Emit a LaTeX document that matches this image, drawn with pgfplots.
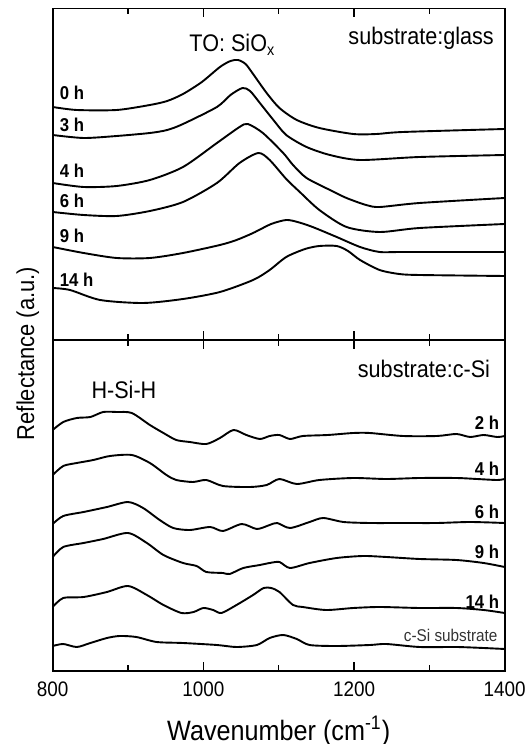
\documentclass[border=0pt]{standalone}
\usepackage{fontspec}
\setmainfont{Liberation Sans}[FakeStretch=0.9]
\usepackage{pgfplots}
\pgfplotsset{compat=1.18}

\pgfplotsset{
  panel/.style={
    width=226pt, scale only axis,
    xmin=800, xmax=1400, ymin=0,
    ytick=\empty,
    xtick={800,1000,1200,1400},
    minor x tick num=1,
    tick align=inside,
    major tick length=4.5pt, minor tick length=3pt,
    axis line style={line width=0.9pt},
    every tick/.style={black, line width=0.8pt},
    tick label style={font=\fontsize{10.5}{12}\selectfont},
    xticklabel style={yshift=-1.8pt},
    /pgf/number format/assume math mode=true,
    /pgf/number format/1000 sep={},
  },
}
\tikzset{
  cv/.style={black, line width=0.95pt, smooth, tension=0.45},
  lab/.style={font=\fontsize{9.3}{10}\selectfont\bfseries, inner sep=0pt},
  big/.style={font=\fontsize{12}{14}\selectfont, inner sep=0pt},
}

\begin{document}
\begin{tikzpicture}
\path[use as bounding box] (-26.35pt,-36.5pt) rectangle (237.65pt,335.5pt);

% top: substrate glass
\begin{axis}[panel, at={(0,165.5pt)}, anchor=south west,
  height=165.75pt, ymax=331.5, xticklabels={}]
% 0 h
\addplot[cv] coordinates {(800,233) (832,230) (885,230) (929,235) (952,239) (973,246) (998,258) (1022,273) (1036,279) (1046,280) (1056,276) (1066,266) (1084,247) (1101,232) (1124,220) (1154,212) (1199,206) (1230,206) (1265,208) (1400,211)};
% 3 h
\addplot[cv] coordinates {(800,205) (841,202) (885,204) (929,207) (952,210) (973,216) (1018,233) (1036,245) (1052,252) (1062,249) (1075,237) (1093,220) (1110,205) (1137,193) (1168,185) (1208,180) (1287,183) (1400,185)};
% 4 h
\addplot[cv] coordinates {(800,157) (841,153) (885,154) (929,160) (973,173) (1018,197) (1048,213) (1059,216) (1079,207) (1106,187) (1119,175) (1137,162) (1168,150) (1190,142) (1216,135) (1234,133) (1287,137) (1400,142)};
% 6 h
\addplot[cv] coordinates {(800,128) (841,125) (885,124) (929,129) (973,138) (1018,157) (1048,177) (1073,187) (1088,180) (1110,161) (1128,148) (1154,130) (1190,113) (1234,108) (1287,112) (1400,116)};
% 9 h
\addplot[cv] coordinates {(800,93) (841,87) (885,82) (929,82) (973,87) (1022,95) (1044,100) (1066,107) (1090,116) (1110,120) (1125,118) (1145,113) (1177,103) (1208,93) (1234,88) (1265,88) (1400,88)};
% 14 h
\addplot[cv] coordinates {(800,52) (823,50) (863,40) (920,37) (973,41) (1022,48) (1066,60) (1088,70) (1110,83) (1135,91) (1154,94) (1177,94) (1192,89) (1208,80) (1234,70) (1260,66) (1287,65) (1400,64)};
\node[lab, anchor=west] at (axis cs:809,247) {0 h};
\node[lab, anchor=west] at (axis cs:809,215) {3 h};
\node[lab, anchor=west] at (axis cs:809,169) {4 h};
\node[lab, anchor=west] at (axis cs:809,139) {6 h};
\node[lab, anchor=west] at (axis cs:809,104) {9 h};
\node[lab, anchor=west] at (axis cs:809,60) {14 h};
\node[big, anchor=base west] at (axis cs:981,288) {TO: SiO\textsubscript{x}};
\node[big, anchor=base east] at (axis cs:1386,295) {substrate:glass};
\end{axis}

% bottom: substrate c-Si
\begin{axis}[panel, at={(0,0)}, anchor=south west,
  height=165.5pt, ymax=331,
  xlabel={Wavenumber (cm\textsuperscript{-1})},
  xlabel style={at={(axis description cs:0.5,0)}, anchor=base, yshift=-34.5pt, font=\fontsize{14}{16}\selectfont, inner sep=0pt}]
% 2 h
\addplot[cv] coordinates {(800,241) (814,249) (832,253) (850,254) (867,259) (885,259) (905,258) (929,246) (947,238) (964,231) (982,229) (1004,227) (1022,233) (1040,241) (1057,236) (1075,232) (1088,235) (1101,236) (1115,232) (1132,235) (1165,236) (1199,238) (1221,238) (1265,235) (1310,235) (1336,237) (1354,234) (1372,236) (1390,234) (1400,235)};
% 4 h
\addplot[cv] coordinates {(800,196) (814,205) (832,208) (854,211) (876,215) (905,216) (929,208) (951,196) (964,191) (986,189) (1004,191) (1026,185) (1062,184) (1084,186) (1101,192) (1124,187) (1154,191) (1199,193) (1243,192) (1287,193) (1336,193) (1363,192) (1390,191) (1400,192)};
% 6 h
\addplot[cv] coordinates {(800,147) (814,155) (841,159) (872,164) (900,169) (920,163) (942,151) (960,143) (982,141) (1009,144) (1026,140) (1051,147) (1071,142) (1088,146) (1098,148) (1115,143) (1141,149) (1159,153) (1186,149) (1221,148) (1265,148) (1310,148) (1354,149) (1400,148)};
% 9 h
\addplot[cv] coordinates {(800,114) (814,124) (841,128) (867,132) (900,138) (925,128) (947,116) (973,108) (991,105) (1004,99) (1026,98) (1035,97) (1053,103) (1075,106) (1088,108) (1101,109) (1115,103) (1141,108) (1177,113) (1212,115) (1243,114) (1287,112) (1336,111) (1372,108) (1400,104)};
% 14 h
\addplot[cv] coordinates {(800,64) (814,73) (841,74) (872,79) (900,85) (925,76) (947,66) (971,58) (987,59) (1000,63) (1013,61) (1024,58) (1044,66) (1066,76) (1080,83) (1090,83) (1101,79) (1119,66) (1132,64) (1163,61) (1199,63) (1234,64) (1287,63) (1336,63) (1372,61) (1400,58)};
% c-Si substrate
\addplot[cv] coordinates {(800,25) (814,27) (832,24) (850,28) (872,33) (889,35) (911,34) (938,29) (973,28) (1018,26) (1044,24) (1071,26) (1088,33) (1106,36) (1124,32) (1141,26) (1177,25) (1221,26) (1243,27) (1287,24) (1336,24) (1372,23) (1400,22)};
\node[lab, anchor=east] at (axis cs:1393,248) {2 h};
\node[lab, anchor=east] at (axis cs:1393,202) {4 h};
\node[lab, anchor=east] at (axis cs:1393,159) {6 h};
\node[lab, anchor=east] at (axis cs:1393,119) {9 h};
\node[lab, anchor=east] at (axis cs:1393,69) {14 h};
\node[anchor=east, inner sep=0pt, text=black!80, font=\fontsize{8.5}{10}\selectfont] at (axis cs:1391,36) {c-Si substrate};
\node[big, anchor=base west] at (axis cs:851,272) {H-Si-H};
\node[big, anchor=base east] at (axis cs:1381,293) {substrate:c-Si};
\end{axis}

\node[rotate=90, anchor=base, inner sep=0pt, font=\fontsize{12.2}{14}\selectfont] at (-9.35pt,158.75pt) {Reflectance (a.u.)};
\end{tikzpicture}
\end{document}
